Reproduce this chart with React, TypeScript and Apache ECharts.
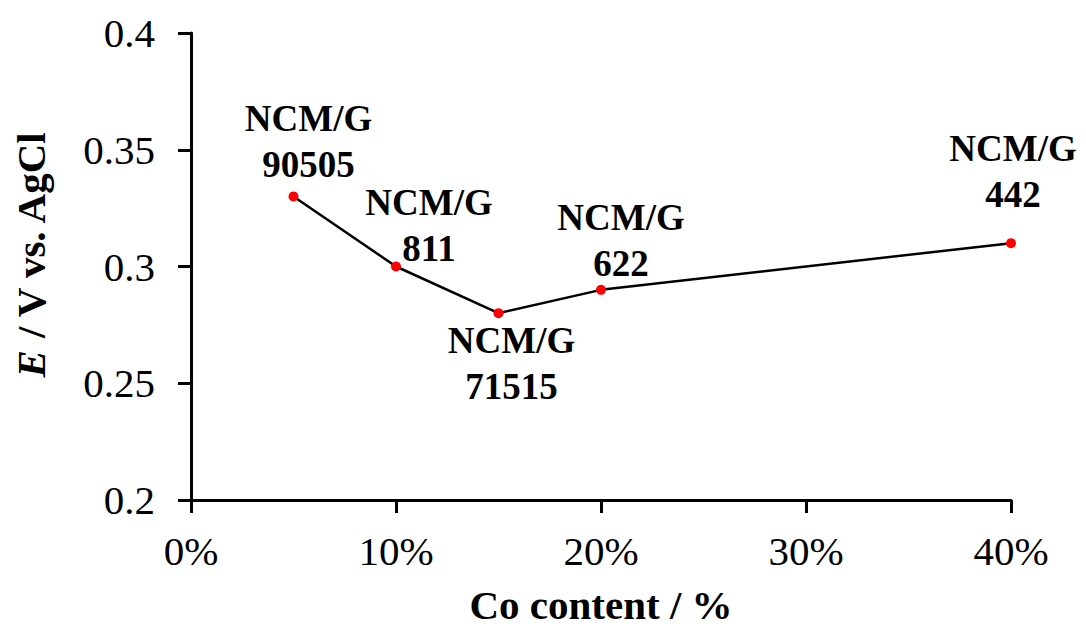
import React, { useEffect, useRef } from "react";
import * as echarts from "echarts";

// Co content (%) of each NCM/G sample and its measured potential (V vs. AgCl)
const coContent = [5, 10, 15, 20, 40];
const potential = [0.33, 0.3, 0.28, 0.29, 0.31];
const sampleCodes = ["90505", "811", "71515", "622", "442"];

// Axis ticks
const xTicks = { min: 0, max: 40, interval: 10 };
const yTicks = { min: 0.2, max: 0.4, interval: 0.05 };

// Label placement relative to each marker (dx, dy of the label block centre)
const labelOffsets: [number, number][] = [
  [15, -55],
  [33, -41],
  [13, 50],
  [20, -49],
  [2, -72],
];

const SERIF = '"Liberation Serif", "Times New Roman", Times, serif';

export default function App() {
  const ref = useRef<HTMLDivElement>(null);

  useEffect(() => {
    if (!ref.current) return;
    const chart = echarts.init(ref.current, null, { renderer: "svg" });

    const data = coContent.map((x, i) => ({
      value: [x, potential[i]],
      label: {
        formatter: `NCM/G\n${sampleCodes[i]}`,
        offset: labelOffsets[i],
      },
    }));

    chart.setOption({
      animation: false,
      backgroundColor: "#ffffff",
      grid: {
        left: 191,
        right: 75,
        top: 33,
        bottom: 126,
        containLabel: false,
        outerBoundsMode: "none",
      },
      xAxis: {
        type: "value",
        min: xTicks.min,
        max: xTicks.max,
        interval: xTicks.interval,
        name: "Co content / %",
        nameLocation: "middle",
        nameGap: 84,
        nameTextStyle: {
          fontFamily: SERIF,
          fontWeight: "bold",
          fontSize: 41,
          color: "#000",
        },
        axisLine: { show: true, lineStyle: { color: "#000", width: 3 } },
        axisTick: { show: true, length: 13, lineStyle: { color: "#000", width: 3 } },
        axisLabel: {
          margin: 30,
          fontFamily: SERIF,
          fontSize: 41,
          color: "#000",
          formatter: (v: number) => `${v}%`,
        },
        splitLine: { show: false },
      },
      yAxis: {
        type: "value",
        min: yTicks.min,
        max: yTicks.max,
        interval: yTicks.interval,
        axisLine: { show: true, lineStyle: { color: "#000", width: 3 } },
        axisTick: { show: true, length: 13, lineStyle: { color: "#000", width: 3 } },
        axisLabel: {
          margin: 36,
          fontFamily: SERIF,
          fontSize: 41,
          color: "#000",
          formatter: (v: number) => `${parseFloat(v.toFixed(2))}`,
        },
        splitLine: { show: false },
      },
      graphic: [
        {
          type: "text",
          x: 31,
          y: 254,
          rotation: Math.PI / 2,
          style: {
            text: "{i|E} / V vs. AgCl",
            align: "center",
            verticalAlign: "middle",
            fontFamily: SERIF,
            fontWeight: "bold",
            fontSize: 41,
            fill: "#000",
            rich: {
              i: {
                fontFamily: SERIF,
                fontWeight: "bold",
                fontStyle: "italic",
                fontSize: 41,
                fill: "#000",
              },
            },
          },
        },
      ],
      series: [
        {
          type: "line",
          data,
          symbol: "circle",
          symbolSize: 10,
          itemStyle: { color: "#ff0000" },
          lineStyle: { color: "#000", width: 2.5 },
          label: {
            show: true,
            position: "inside",
            align: "center",
            verticalAlign: "middle",
            fontFamily: SERIF,
            fontWeight: "bold",
            fontSize: 37,
            lineHeight: 46,
            color: "#000",
          },
          emphasis: { disabled: true },
        },
      ],
    });

    return () => chart.dispose();
  }, []);

  return (
    <div
      ref={ref}
      style={{ position: "fixed", left: 0, top: 0, width: 1086, height: 626, background: "#fff" }}
    />
  );
}
